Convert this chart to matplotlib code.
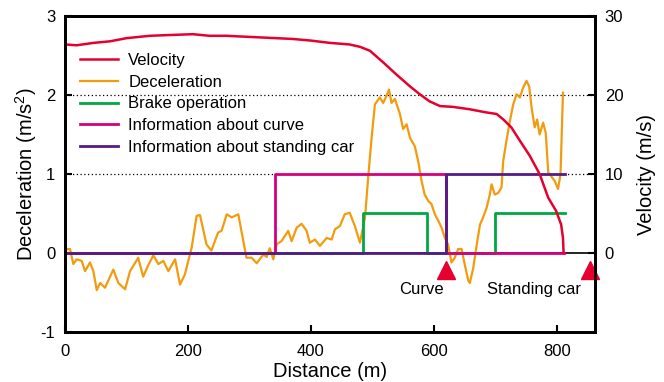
import numpy as np
import matplotlib.pyplot as plt

plt.rcParams['font.family'] = ['Liberation Sans', 'DejaVu Sans']
plt.rcParams['mathtext.default'] = 'regular'
plt.rcParams['axes.unicode_minus'] = False

# velocity (m/s) over distance (m)
vel_dist = [0, 19, 46, 73, 100, 138, 171, 208, 235, 262, 316, 370, 399, 431, 463, 480, 496,
            518, 539, 561, 577, 593, 610, 631, 658, 685, 702, 713, 726, 740, 756, 772,
            786, 799, 807, 810, 811]
vel = [26.4, 26.3, 26.6, 26.8, 27.2, 27.5, 27.6, 27.7, 27.5, 27.5, 27.3, 27.1, 26.9, 26.6,
       26.4, 26.1, 25.6, 24.1, 22.6, 21.1, 20.1, 19.2, 18.6, 18.5, 18.2, 17.8, 17.6, 16.9,
       15.9, 14.2, 12.3, 10.0, 7.0, 5.3, 3.6, 1.9, 0.0]

# deceleration (m/s^2) over distance (m)
dec_dist = [0, 3, 8, 13.5, 19, 27, 32.5, 40.6, 46, 51.5, 57, 65, 78.5, 86.7, 97.6, 105.7,
            119, 127, 135, 143.6, 151.7, 159.8, 168, 179, 187, 195, 206, 214, 219.5, 230,
            238, 249, 254.6, 263, 271, 281.8, 290, 295, 303.5, 311.7, 322.5, 328, 333,
            338.7, 344, 352, 363, 368.6, 376.7, 384.8, 393, 398, 406.5, 414.6, 425.5,
            433.7, 439, 447, 455, 463, 471.5, 479.7, 488, 493, 498.7, 504, 512, 517.5,
            523, 527, 531, 536.6, 544.7, 550, 555.6, 561, 569, 574.5, 580, 585, 590.7,
            596, 601.6, 607, 612.5, 617.9, 623, 628.6, 634, 639.5, 645, 650, 656, 658.5,
            664, 669, 675, 680, 685.7, 691, 693.8, 699, 704.5, 710, 712.7, 718, 723.6,
            729, 734.5, 740, 745, 750.7, 755, 759, 764, 768, 772, 777.7, 782, 786, 791,
            796.7, 802, 806, 810]
dec = [0.02, 0.05, 0.05, -0.14, -0.08, -0.10, -0.23, -0.12, -0.23, -0.47, -0.38, -0.44,
       -0.21, -0.38, -0.46, -0.23, -0.06, -0.30, -0.16, -0.03, -0.14, -0.10, -0.23, -0.08,
       -0.40, -0.27, 0.07, 0.47, 0.48, 0.11, 0.03, 0.26, 0.28, 0.49, 0.45, 0.49, 0.15,
       -0.06, -0.06, -0.13, -0.02, -0.05, 0.06, -0.08, 0.11, 0.15, 0.28, 0.15, 0.32, 0.37,
       0.28, 0.13, 0.17, 0.09, 0.19, 0.17, 0.30, 0.34, 0.49, 0.51, 0.34, 0.13, 0.45, 0.95,
       1.46, 1.88, 1.97, 1.90, 1.99, 2.07, 1.90, 1.95, 1.76, 1.57, 1.63, 1.46, 1.35, 1.16,
       0.91, 0.74, 0.66, 0.62, 0.49, 0.41, 0.32, 0.19, 0.11, -0.12, -0.06, 0.05, 0.05,
       -0.14, -0.35, -0.38, -0.19, 0.07, 0.36, 0.45, 0.57, 0.74, 0.87, 0.74, 0.76, 0.83,
       1.16, 1.42, 1.67, 1.88, 2.01, 1.97, 2.09, 2.18, 2.11, 1.84, 1.59, 1.69, 1.50, 1.65,
       1.52, 1.02, 0.97, 0.91, 0.81, 1.00, 2.03]

# step signals
brake_dist = [0, 484, 589, 700, 813]
brake = [0, 0.5, 0, 0.5, 0.5]
curve_dist = [0, 342, 620, 811]
curve_info = [0, 1, 0, 0]
car_dist = [0, 620, 813]
car_info = [0, 1, 1]

marker_dist = [620, 854]
marker_labels = ["Curve", "Standing car"]
label_dist = [579, 763]

fig = plt.figure(figsize=(6.64, 3.82), dpi=100)
ax1 = fig.add_axes([0.098, 0.131, 0.798, 0.827])
ax2 = ax1.twinx()

ax1.axhline(0, color="black", lw=1.2, zorder=1)
for yv in [1, 2]:
    ax1.axhline(yv, color="black", lw=0.9, ls=(0, (1, 2)), zorder=1)

ax1.plot(dec_dist, dec, color="#f29b0f", lw=1.6, label="Deceleration")
ax1.plot(brake_dist, brake, color="#00a843", lw=2, drawstyle="steps-post", label="Brake operation")
ax1.plot(curve_dist, curve_info, color="#d6007f", lw=2, drawstyle="steps-post",
         label="Information about curve")
ax1.plot(car_dist, car_info, color="#551c86", lw=2, drawstyle="steps-post",
         label="Information about standing car")

ax2.plot(vel_dist, vel, color="#e5002d", lw=1.8, label="Velocity")

ax1.plot(marker_dist, [-0.22, -0.22], ls="none", marker="^", ms=13, color="#e5002d",
         clip_on=False, zorder=5)
for d, t in zip(label_dist, marker_labels):
    ax1.text(d, -0.46, t, ha="center", va="center", fontsize=12)

ax1.set_xlim(0, 862)
ax1.set_ylim(-1, 3)
ax2.set_ylim(-10, 30)
ax1.set_xticks([0, 200, 400, 600, 800])
ax1.set_yticks([-1, 0, 1, 2, 3])
ax2.set_yticks([0, 10, 20, 30])

for ax in (ax1, ax2):
    ax.tick_params(direction="in", length=5, width=1.5, labelsize=12, pad=7)
    for s in ax.spines.values():
        s.set_linewidth(2)
ax1.tick_params(axis="x", pad=9)

ax1.set_xlabel("Distance (m)", fontsize=14.5, labelpad=2)
ax1.set_ylabel("Deceleration (m/s$^2$)", fontsize=14.5, labelpad=1)
ax2.set_ylabel("Velocity (m/s)", fontsize=14.5, labelpad=10)

h1, l1 = ax1.get_legend_handles_labels()
h2, l2 = ax2.get_legend_handles_labels()
ax2.legend(h2 + h1, l2 + l1, loc="upper left", bbox_to_anchor=(0.0, 0.93), frameon=False,
           fontsize=12, handlelength=2.3, handletextpad=0.6, labelspacing=0.4,
           borderaxespad=0.5)

fig.savefig("out.png", dpi=100)
plt.close(fig)
